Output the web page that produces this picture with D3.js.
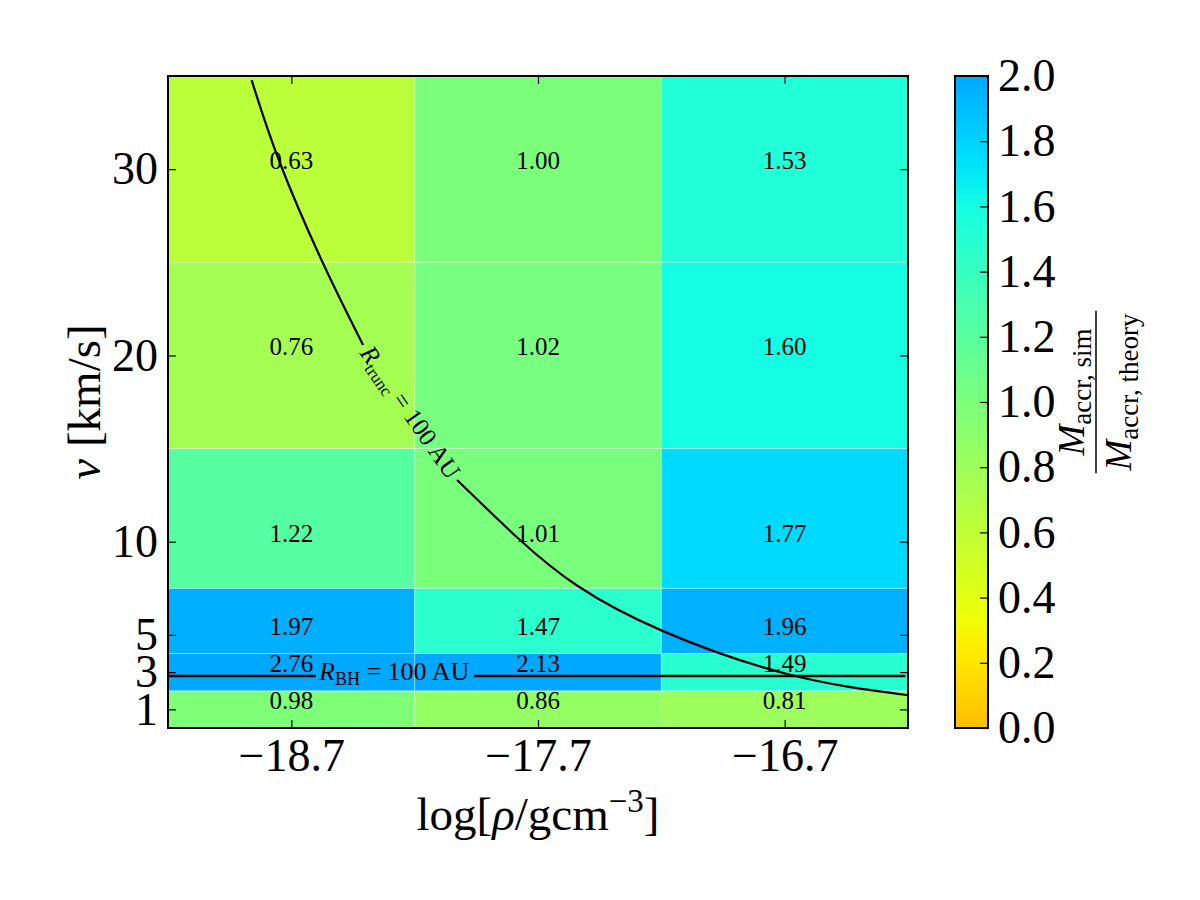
<!DOCTYPE html>
<html>
<head>
<meta charset="utf-8">
<script src="https://cdn.jsdelivr.net/npm/d3@7"></script>
<style>
  body { margin: 0; background: #fff; }
  text { font-family: "Liberation Serif", "DejaVu Serif", serif; fill: #000; }
</style>
</head>
<body>
<svg id="chart" width="1200" height="900"></svg>
<script>
// grid of simulations: log density columns, velocity rows
const rhoCenters = [-18.7, -17.7, -16.7];
const rhoEdges = [-19.2, -18.2, -17.2, -16.2];
const vTicks = [1, 3, 5, 10, 20, 30];
const vEdges = [0, 2, 4, 7.5, 15, 25, 35];

// accretion ratio sim/theory, one row per velocity (bottom to top)
const ratioV1 = [0.98, 0.86, 0.81];
const ratioV3 = [2.76, 2.13, 1.49];
const ratioV5 = [1.97, 1.47, 1.96];
const ratioV10 = [1.22, 1.01, 1.77];
const ratioV20 = [0.76, 1.02, 1.60];
const ratioV30 = [0.63, 1.00, 1.53];
const ratioRows = [ratioV1, ratioV3, ratioV5, ratioV10, ratioV20, ratioV30];

// R_trunc = 100 AU curve, [log rho, v], split where the label sits
const truncUpper = [[-18.861, 34.78], [-18.746, 30.33], [-18.572, 24.96], [-18.409, 20.56]];
const truncLower = [[-18.028, 13.31], [-17.773, 10.09], [-17.542, 7.65], [-17.193, 5.2], [-16.678, 2.86], [-16.204, 1.77]];

// R_BH = 100 AU line
const rBH = 2.79;
const rBHLeft = [-19.2, -18.6];
const rBHRight = [-17.96, -16.21];

const colorTicks = [0, 0.2, 0.4, 0.6, 0.8, 1.0, 1.2, 1.4, 1.6, 1.8, 2.0];

const svg = d3.select('#chart');

const x = d3.scaleLinear().domain([-19.2, -16.2]).range([168, 908]);
const y = d3.scaleLinear().domain([0, 35]).range([728, 76]);

// jet colormap, only the middle part is used, reversed
const jr = d3.scaleLinear().domain([0, 0.35, 0.66, 0.89, 1]).range([0, 0, 1, 1, 0.5]).clamp(true);
const jg = d3.scaleLinear().domain([0, 0.125, 0.375, 0.64, 0.91, 1]).range([0, 0, 1, 1, 0, 0]).clamp(true);
const jb = d3.scaleLinear().domain([0, 0.11, 0.34, 0.65, 1]).range([0.5, 1, 1, 0, 0]).clamp(true);
const toT = d3.scaleLinear().domain([0, 2]).range([0.71, 0.29]).clamp(true);
function cmap(v) {
  const t = toT(v);
  return d3.rgb(jr(t) * 255, jg(t) * 255, jb(t) * 255).formatHex();
}

// cells
const cells = [];
ratioRows.forEach((row, i) => {
  row.forEach((val, j) => {
    cells.push({ i, j, val });
  });
});

svg.append('g').selectAll('rect')
  .data(cells)
  .enter()
  .append('rect')
  .attr('x', d => x(rhoEdges[d.j]))
  .attr('width', d => x(rhoEdges[d.j + 1]) - x(rhoEdges[d.j]))
  .attr('y', d => y(vEdges[d.i + 1]))
  .attr('height', d => y(vEdges[d.i]) - y(vEdges[d.i + 1]))
  .attr('fill', d => cmap(d.val))
  .attr('stroke', 'rgba(255,255,255,0.3)')
  .attr('stroke-width', 1);

svg.append('g').selectAll('text')
  .data(cells)
  .enter()
  .append('text')
  .attr('x', d => x(rhoCenters[d.j]))
  .attr('y', d => y(vTicks[d.i]))
  .attr('text-anchor', 'middle')
  .style('font-size', '25px')
  .text(d => d.val.toFixed(2));

// R_trunc curve
const line = d3.line().x(d => x(d[0])).y(d => y(d[1])).curve(d3.curveNatural);
[truncUpper, truncLower].forEach(seg => {
  svg.append('path')
    .attr('d', line(seg))
    .attr('fill', 'none')
    .attr('stroke', '#000')
    .attr('stroke-width', 2.2);
});

const p0 = truncUpper[truncUpper.length - 1];
const p1 = truncLower[0];
const lx = (x(p0[0]) + x(p1[0])) / 2;
const ly = (y(p0[1]) + y(p1[1])) / 2;
const ang = Math.atan2(y(p1[1]) - y(p0[1]), x(p1[0]) - x(p0[0])) * 180 / Math.PI;
const tl = svg.append('text')
  .attr('transform', `translate(${lx},${ly}) rotate(${ang})`)
  .attr('text-anchor', 'middle')
  .attr('dy', '0.32em')
  .style('font-size', '25px');
tl.append('tspan').style('font-style', 'italic').text('R');
tl.append('tspan').attr('dy', 5).style('font-size', '17px').text('trunc');
tl.append('tspan').attr('dy', -5).text(' = 100 AU');

// R_BH line
[rBHLeft, rBHRight].forEach(seg => {
  svg.append('line')
    .attr('x1', x(seg[0])).attr('x2', x(seg[1]))
    .attr('y1', y(rBH)).attr('y2', y(rBH))
    .attr('stroke', '#000')
    .attr('stroke-width', 2.5);
});
const bl = svg.append('text')
  .attr('x', x(rBHLeft[1]) + 3)
  .attr('y', y(rBH) + 4)
  .style('font-size', '26px');
bl.append('tspan').style('font-style', 'italic').text('R');
bl.append('tspan').attr('dy', 5).style('font-size', '18px').text('BH');
bl.append('tspan').attr('dy', -5).text(' = 100 AU');

// axes, ticks inward on all four sides
const fmtX = d => d3.format('.1f')(d).replace('-', '\u2212');
const gx = svg.append('g').attr('transform', 'translate(0,728)')
  .call(d3.axisBottom(x).tickValues(rhoCenters).tickSizeInner(-8).tickSizeOuter(0).tickPadding(10).tickFormat(fmtX));
const gxt = svg.append('g').attr('transform', 'translate(0,76)')
  .call(d3.axisTop(x).tickValues(rhoCenters).tickSizeInner(-8).tickSizeOuter(0).tickFormat(''));
const gy = svg.append('g').attr('transform', 'translate(168,0)')
  .call(d3.axisLeft(y).tickValues(vTicks).tickSizeInner(-8).tickSizeOuter(0).tickPadding(10).tickFormat(d3.format('d')));
const gyr = svg.append('g').attr('transform', 'translate(908,0)')
  .call(d3.axisRight(y).tickValues(vTicks).tickSizeInner(-8).tickSizeOuter(0).tickFormat(''));

[gx, gxt, gy, gyr].forEach(g => {
  g.select('.domain').remove();
  g.selectAll('line').attr('stroke', '#000').attr('stroke-width', 1.2);
  g.selectAll('text')
    .style('font-family', '"Liberation Serif", "DejaVu Serif", serif')
    .style('font-size', '46px')
    .attr('fill', '#000');
});

svg.append('rect')
  .attr('x', 168).attr('y', 76)
  .attr('width', 740).attr('height', 652)
  .attr('fill', 'none')
  .attr('stroke', '#000')
  .attr('stroke-width', 2);

// axis labels
const xl = svg.append('text')
  .attr('x', (x.range()[0] + x.range()[1]) / 2)
  .attr('y', 830)
  .attr('text-anchor', 'middle')
  .style('font-size', '47px');
xl.append('tspan').text('log[');
xl.append('tspan').style('font-style', 'italic').text('\u03c1');
xl.append('tspan').text('/gcm');
xl.append('tspan').attr('dy', -18).style('font-size', '33px').text('\u22123');
xl.append('tspan').attr('dy', 18).text(']');

const yl = svg.append('text')
  .attr('transform', `translate(100,${(y.range()[0] + y.range()[1]) / 2}) rotate(-90)`)
  .attr('text-anchor', 'middle')
  .style('font-size', '47px');
yl.append('tspan').style('font-style', 'italic').text('v');
yl.append('tspan').text(' [km/s]');

// colorbar
const cb = d3.scaleLinear().domain([0, 2]).range([728, 76]);
const defs = svg.append('defs');
const grad = defs.append('linearGradient')
  .attr('id', 'cbgrad')
  .attr('x1', 0).attr('y1', 1).attr('x2', 0).attr('y2', 0);
d3.range(0, 2.0001, 0.05).forEach(v => {
  grad.append('stop').attr('offset', v / 2).attr('stop-color', cmap(v));
});
svg.append('rect')
  .attr('x', 955).attr('y', cb.range()[1])
  .attr('width', 33).attr('height', cb.range()[0] - cb.range()[1])
  .attr('fill', 'url(#cbgrad)')
  .attr('stroke', '#000')
  .attr('stroke-width', 2);

const gc = svg.append('g').attr('transform', 'translate(988,0)')
  .call(d3.axisRight(cb).tickValues(colorTicks).tickSizeInner(-8).tickSizeOuter(0).tickPadding(10).tickFormat(d3.format('.1f')));
gc.select('.domain').remove();
gc.selectAll('line').attr('stroke', '#000').attr('stroke-width', 1.2);
gc.selectAll('text')
  .style('font-family', '"Liberation Serif", "DejaVu Serif", serif')
  .style('font-size', '46px')
  .attr('fill', '#000');

// colorbar label: fraction, rotated
const fl = svg.append('g').attr('transform', 'translate(1096,392) rotate(-90)');
const num = fl.append('text').attr('x', 0).attr('y', -12).attr('text-anchor', 'middle').style('font-size', '37px');
num.append('tspan').style('font-style', 'italic').text('M');
num.append('tspan').attr('dy', 7).style('font-size', '27px').text('accr, sim');
const den = fl.append('text').attr('x', 0).attr('y', 35).attr('text-anchor', 'middle').style('font-size', '37px');
den.append('tspan').style('font-style', 'italic').text('M');
den.append('tspan').attr('dy', 7).style('font-size', '27px').text('accr, theory');
const dw = den.node().getBBox().width;
fl.append('line')
  .attr('x1', -dw / 2 - 2).attr('x2', dw / 2 + 2)
  .attr('y1', 0).attr('y2', 0)
  .attr('stroke', '#000')
  .attr('stroke-width', 1.5);
</script>
</body>
</html>
